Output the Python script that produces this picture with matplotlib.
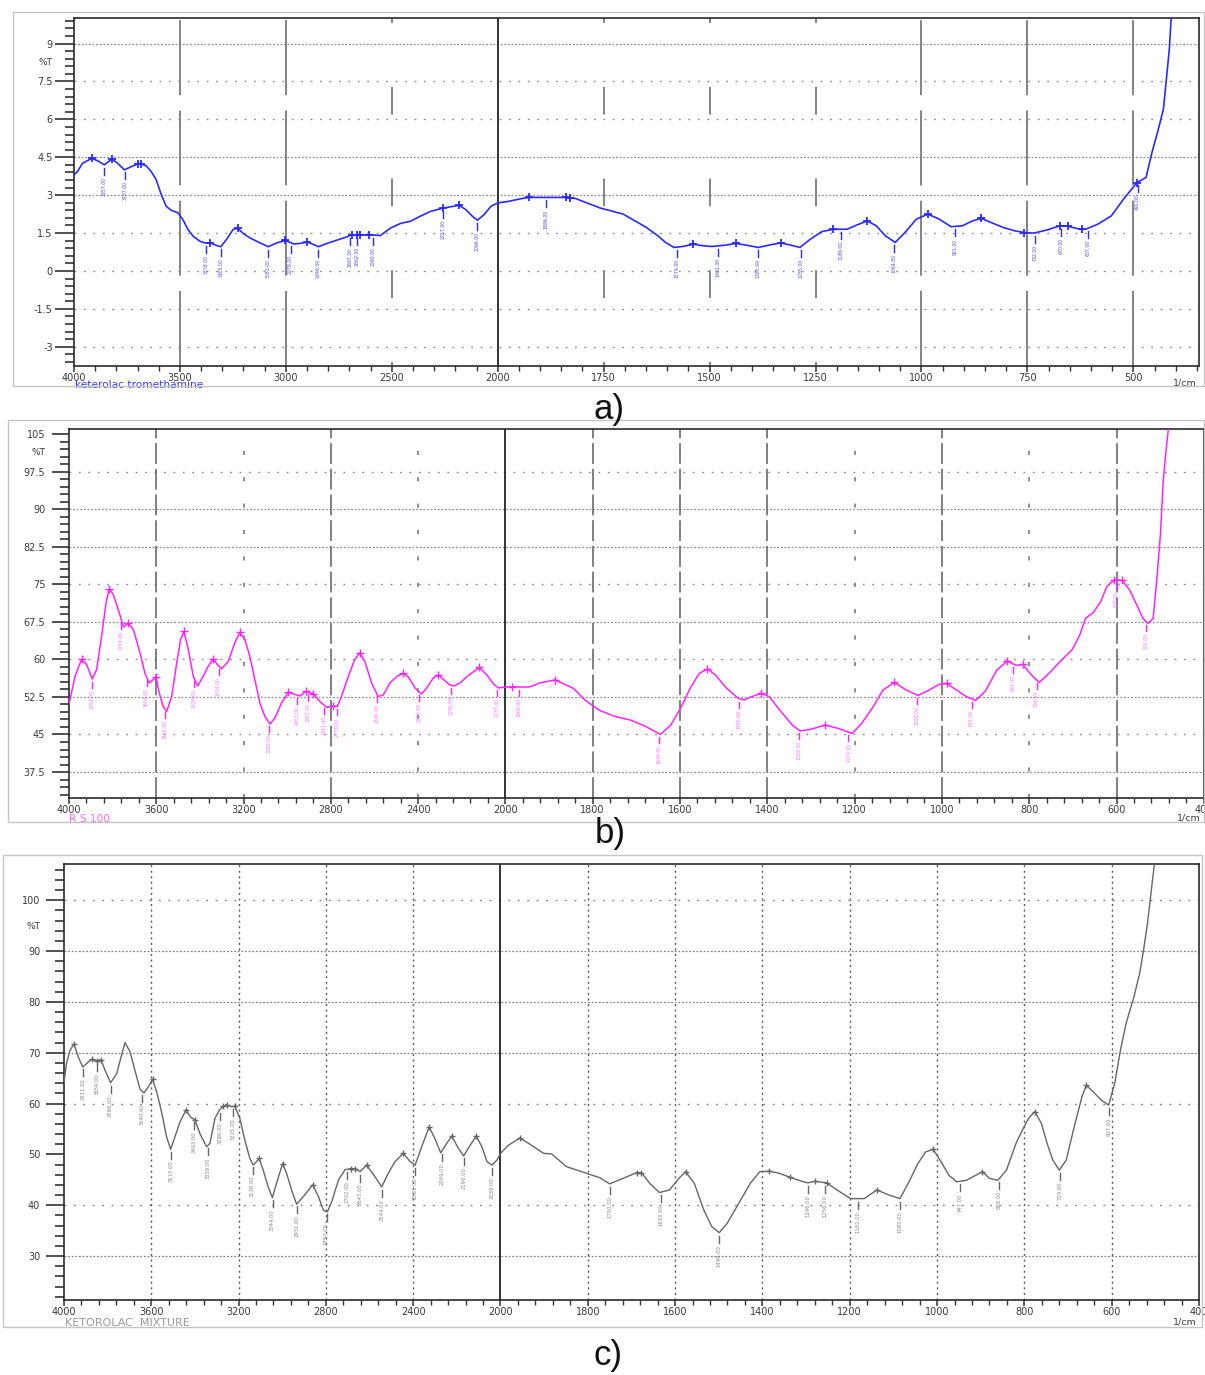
import numpy as np
import matplotlib
matplotlib.use('Agg')
import matplotlib.pyplot as plt
from matplotlib.ticker import FixedLocator, FixedFormatter, NullFormatter
from matplotlib.patches import Rectangle

plt.rcParams['lines.scale_dashes'] = False
plt.rcParams['font.family'] = ['DejaVu Sans']

W, H = 1205, 1375

# ---------------- data: panel a (Ketorolac tromethamine) ----------------
a_wn = [4000, 3983, 3960, 3915, 3881, 3857, 3821, 3794, 3762, 3730, 3691, 3659, 3636, 3612,
        3588, 3565, 3541, 3509, 3486, 3462, 3438, 3407, 3383, 3356, 3328, 3307, 3280, 3249,
        3228, 3201, 3170, 3122, 3083, 3043, 3002, 2964, 2933, 2898, 2870, 2846, 2806, 2759,
        2712, 2688, 2664, 2648, 2609, 2554, 2506, 2459, 2411, 2372, 2317, 2257, 2182, 2151,
        2119, 2096, 2064, 2032, 2001, 1976, 1945, 1926, 1880, 1839, 1817, 1758, 1704, 1649,
        1622, 1604, 1584, 1563, 1538, 1517, 1495, 1463, 1438, 1413, 1385, 1358, 1332, 1308,
        1287, 1262, 1235, 1208, 1176, 1148, 1128, 1107, 1085, 1062, 1039, 1012, 985, 958,
        930, 903, 880, 859, 839, 807, 780, 757, 734, 702, 673, 654, 634, 613, 584, 552,
        520, 491, 470, 456, 443, 429, 422, 415, 410]
a_T = [3.80, 3.94, 4.26, 4.46, 4.33, 4.20, 4.43, 4.26, 4.00, 4.13, 4.26, 4.16, 3.94, 3.61,
       3.02, 2.56, 2.40, 2.30, 2.03, 1.64, 1.38, 1.18, 1.11, 1.11, 1.01, 0.96, 1.25, 1.64,
       1.70, 1.48, 1.31, 1.11, 0.96, 1.11, 1.21, 1.07, 1.09, 1.14, 1.05, 0.96, 1.09, 1.22,
       1.35, 1.44, 1.42, 1.42, 1.44, 1.40, 1.70, 1.88, 1.97, 2.14, 2.36, 2.49, 2.60, 2.43,
       2.16, 2.01, 2.23, 2.56, 2.69, 2.75, 2.86, 2.91, 2.91, 2.91, 2.87, 2.49, 2.25, 1.72,
       1.39, 1.13, 0.93, 0.97, 1.06, 1.00, 0.97, 1.02, 1.09, 1.02, 0.93, 1.03, 1.11, 1.02,
       0.93, 1.26, 1.56, 1.65, 1.65, 1.85, 1.98, 1.79, 1.39, 1.13, 1.52, 2.05, 2.25, 2.05,
       1.75, 1.79, 1.98, 2.08, 1.94, 1.72, 1.59, 1.52, 1.50, 1.63, 1.79, 1.77, 1.68, 1.65,
       1.85, 2.18, 2.91, 3.50, 3.70, 4.69, 5.48, 6.40, 7.59, 8.78, 10.2]
a_labels = [3857, 3757, 3378, 3305, 3083, 2978, 2846, 2697, 2662, 2590, 2257, 2096, 1886,
            1576, 1481, 1385, 1285, 1189, 1064, 921, 732, 670, 607, 490]
a_plus = [3915, 3821, 3696, 3686, 3356, 3228, 3002, 2898, 2688, 2666, 2648, 2609, 2257, 2182,
          1926, 1839, 1830, 1538, 1438, 1332, 1208, 1128, 985, 859, 757, 673, 654, 620, 491]

# ---------------- data: panel b (RS 100) ----------------
b_wn = [4000, 3972, 3942, 3919, 3893, 3873, 3850, 3830, 3815, 3797, 3774, 3750, 3728, 3705,
        3674, 3652, 3632, 3613, 3601, 3586, 3568, 3552, 3529, 3506, 3488, 3473, 3453, 3430,
        3410, 3385, 3362, 3339, 3320, 3301, 3270, 3240, 3217, 3194, 3171, 3148, 3125, 3102,
        3079, 3056, 3026, 2995, 2972, 2942, 2914, 2880, 2850, 2819, 2789, 2770, 2751, 2720,
        2690, 2667, 2644, 2613, 2583, 2560, 2529, 2498, 2468, 2445, 2414, 2384, 2361, 2330,
        2307, 2284, 2254, 2235, 2208, 2170, 2119, 2085, 2055, 2032, 2000, 1985, 1945, 1922,
        1886, 1844, 1818, 1784, 1749, 1714, 1678, 1645, 1621, 1599, 1577, 1556, 1537, 1519,
        1493, 1466, 1453, 1435, 1415, 1396, 1369, 1343, 1325, 1298, 1268, 1237, 1206, 1184,
        1157, 1135, 1109, 1082, 1055, 1029, 1007, 989, 967, 945, 923, 901, 874, 850, 830,
        815, 795, 777, 755, 729, 702, 684, 671, 653, 636, 622, 605, 587, 570, 552, 539, 528,
        516, 508, 499, 493, 486, 480]
b_T = [51.0, 56.6, 60.0, 59.0, 56.1, 58.0, 64.6, 71.3, 74.1, 73.0, 70.0, 66.5, 67.2, 66.0,
       61.3, 57.3, 55.3, 56.0, 56.5, 53.3, 50.6, 49.6, 52.6, 59.3, 64.0, 65.6, 62.0, 56.6,
       54.7, 56.6, 58.6, 60.1, 59.0, 58.1, 59.6, 63.3, 65.4, 64.0, 60.6, 56.0, 51.3, 48.6,
       47.1, 48.3, 51.3, 53.4, 53.1, 52.7, 53.6, 53.1, 51.6, 50.4, 50.7, 50.6, 52.6, 56.6,
       60.0, 61.3, 59.6, 55.3, 52.6, 52.9, 55.3, 56.6, 57.2, 56.5, 54.3, 53.1, 54.3, 56.3,
       56.9, 56.0, 54.9, 54.7, 55.3, 56.8, 58.4, 56.9, 55.1, 54.3, 54.5, 54.5, 54.5, 55.3,
       55.9, 54.2, 51.9, 49.8, 48.6, 47.9, 46.6, 45.0, 46.9, 50.2, 54.2, 57.2, 58.1, 56.9,
       54.2, 52.2, 51.9, 52.6, 53.2, 52.6, 49.6, 46.9, 45.7, 46.1, 46.9, 46.2, 45.2, 47.2,
       50.6, 53.9, 55.4, 53.9, 52.8, 53.9, 55.0, 55.2, 53.9, 52.6, 51.8, 53.6, 57.9, 59.7, 58.8,
       59.0, 56.9, 55.4, 57.2, 59.6, 61.9, 64.9, 68.2, 69.4, 71.6, 74.6, 75.9, 75.8, 73.9, 70.6,
       68.2, 67.2, 68.2, 75.6, 85.5, 95.5, 102.2, 107.0]
b_labels = [3893, 3759, 3644, 3560, 3426, 3314, 3083, 2953, 2903, 2831, 2773, 2590, 2396,
            2250, 2037, 1969, 1649, 1465, 1328, 1214, 1058, 932, 837, 783, 600, 532]
b_plus = [3942, 3815, 3728, 3601, 3473, 3339, 3217, 2995, 2914, 2880, 2789, 2667, 2468, 2307,
          2119, 1985, 1886, 1537, 1415, 1268, 1109, 989, 850, 815, 605, 587]

# ---------------- data: panel c (Ketorolac mixture) ----------------
c_wn = [4000, 3988, 3972, 3954, 3934, 3914, 3888, 3873, 3850, 3830, 3812, 3786, 3758, 3738,
        3720, 3697, 3675, 3651, 3633, 3613, 3594, 3575, 3560, 3545, 3530, 3511, 3491, 3468,
        3441, 3418, 3400, 3377, 3346, 3331, 3308, 3288, 3270, 3252, 3232, 3217, 3194, 3171,
        3148, 3133, 3117, 3105, 3087, 3064, 3045, 3026, 2998, 2980, 2957, 2934, 2903, 2860,
        2834, 2811, 2793, 2773, 2742, 2712, 2686, 2666, 2643, 2613, 2575, 2544, 2514, 2483,
        2445, 2414, 2391, 2361, 2327, 2300, 2274, 2246, 2223, 2197, 2169, 2139, 2111, 2085,
        2062, 2039, 2016, 2000, 1982, 1956, 1936, 1901, 1883, 1849, 1814, 1772, 1750, 1719,
        1688, 1677, 1658, 1636, 1613, 1591, 1576, 1556, 1534, 1516, 1499, 1481, 1454, 1428,
        1406, 1384, 1362, 1337, 1313, 1296, 1280, 1253, 1229, 1198, 1167, 1138, 1110, 1085,
        1066, 1044, 1026, 1009, 991, 973, 955, 933, 911, 896, 880, 861, 841, 819, 801, 788,
        776, 761, 748, 735, 720, 704, 686, 668, 658, 642, 624, 607, 593, 580, 567, 549, 536,
        527, 518, 510, 501]
c_T = [64.0, 67.9, 70.5, 71.7, 69.2, 67.2, 68.2, 68.7, 68.4, 68.6, 66.6, 64.1, 65.9, 69.2,
       72.0, 70.2, 66.6, 62.8, 62.1, 63.3, 64.8, 62.3, 59.7, 56.8, 53.5, 51.0, 53.5, 56.4,
       58.7, 57.3, 56.8, 54.1, 51.5, 52.2, 57.1, 58.7, 59.5, 59.7, 59.4, 59.5, 57.1, 52.8,
       49.2, 47.9, 48.6, 49.2, 46.9, 43.6, 41.5, 44.3, 48.2, 46.3, 43.0, 40.2, 41.7, 44.0,
       41.7, 39.0, 38.7, 40.7, 45.0, 47.0, 47.2, 47.2, 46.6, 47.9, 45.6, 43.6, 46.3, 48.6,
       50.2, 48.6, 47.9, 51.5, 55.4, 53.1, 50.3, 52.2, 53.6, 51.5, 49.7, 51.8, 53.6, 51.5,
       48.6, 47.9, 48.9, 50.2, 51.8, 53.2, 52.2, 50.2, 50.1, 47.6, 46.6, 45.4, 44.2, 45.3,
       46.4, 46.4, 44.3, 42.5, 43.0, 45.3, 46.6, 44.3, 39.0, 35.8, 34.6, 36.4, 40.4, 44.3,
       46.6, 46.7, 46.3, 45.5, 44.8, 44.4, 44.7, 44.4, 43.0, 41.3, 41.3, 43.0, 42.0, 41.3,
       44.3, 48.2, 50.5, 51.0, 48.6, 45.9, 44.6, 44.9, 45.9, 46.6, 45.3, 44.9, 46.9, 52.2,
       55.4, 57.4, 58.4, 56.1, 52.2, 48.9, 46.9, 48.9, 55.4, 61.4, 63.6, 62.3, 60.7, 59.7,
       64.0, 70.5, 75.8, 81.0, 85.6, 90.2, 95.5, 101.4, 108.0]
c_labels = [3911, 3850, 3786, 3640, 3510, 3403, 3339, 3286, 3225, 3136, 3044, 2931, 2797,
            2702, 2643, 2544, 2391, 2269, 2166, 2039, 1750, 1633, 1499, 1296, 1256, 1182,
            1085, 947, 858, 719, 607]
c_plus = [3954, 3873, 3850, 3830, 3594, 3441, 3400, 3270, 3252, 3217, 3105, 2998, 2860, 2686,
          2666, 2613, 2445, 2327, 2223, 2111, 1956, 1688, 1677, 1576, 1384, 1337, 1280, 1253,
          1138, 1009, 896, 776, 658]

# ticks / labels
a_xmajor = [4000, 3500, 3000, 2500, 2000, 1750, 1500, 1250, 1000, 750, 500]
bc_xmajor = [4000, 3600, 3200, 2800, 2400, 2000, 1800, 1600, 1400, 1200, 1000, 800, 600, 400]
a_ymajor = [-3, -1.5, 0, 1.5, 3, 4.5, 6, 7.5, 9]
a_ylab = ['-3', '-1.5', '0', '1.5', '3', '4.5', '6', '7.5', '9']
b_ymajor = [37.5, 45, 52.5, 60, 67.5, 75, 82.5, 90, 97.5, 105]
b_ylab = ['37.5', '45', '52.5', '60', '67.5', '75', '82.5', '90', '97.5', '105']
c_ymajor = [30, 40, 50, 60, 70, 80, 90, 100]
c_ylab = ['30', '40', '50', '60', '70', '80', '90', '100']


def fwd(x):
    x = np.asarray(x, float)
    return np.where(x >= 2000, x / 2 + 1000, x)


def inv(u):
    u = np.asarray(u, float)
    return np.where(u >= 2000, 2 * (u - 1000), u)


fig = plt.figure(figsize=(W / 100, H / 100), dpi=100)


def px_axes(l, r, t, b):
    return fig.add_axes([l / W, 1 - b / H, (r - l) / W, (b - t) / H])


def frame(x0, y0, x1, y1):
    fig.add_artist(Rectangle((x0 / W, 1 - y1 / H), (x1 - x0) / W, (y1 - y0) / H,
                             transform=fig.transFigure, fill=False, ec='#c4c4c4', lw=1.0))


DENSE = (0, (1.3, 1.3))
SPARSE = (0, (1.3, 5.5))


def setup(ax, xlim, ylim, xmajor, xminor, ymajor, ylab, yminor, tpos, majlen, ypad, cmoff):
    ax.set_xscale('function', functions=(fwd, inv))
    ax.set_xlim(*xlim)
    ax.set_ylim(*ylim)
    ax.xaxis.set_major_locator(FixedLocator(xmajor))
    ax.xaxis.set_major_formatter(FixedFormatter([str(v) for v in xmajor]))
    ax.xaxis.set_minor_locator(FixedLocator(xminor))
    ax.xaxis.set_minor_formatter(NullFormatter())
    ax.yaxis.set_major_locator(FixedLocator(ymajor))
    ax.yaxis.set_major_formatter(FixedFormatter(ylab))
    ax.yaxis.set_minor_locator(FixedLocator(yminor))
    ax.tick_params(axis='y', which='major', direction='out', length=majlen, width=1.2,
                   color='#333333', pad=ypad, labelsize=7, labelcolor='#3a3a3a')
    ax.tick_params(axis='y', which='minor', direction='out', length=6.8, width=1.2,
                   color='#333333')
    ax.tick_params(axis='x', which='major', direction='out', length=4.5, width=1.1,
                   color='#333333', pad=0.5, labelsize=7.0, labelcolor='#3a3a3a')
    ax.tick_params(axis='x', which='minor', direction='out', length=3.8, width=1.0,
                   color='#333333')
    for s in ax.spines.values():
        s.set_color('#2a2a2a')
        s.set_linewidth(1.2)
    ax.annotate('%T', xy=(0, tpos), xycoords=ax.get_yaxis_transform(),
                xytext=(-(majlen + ypad), 0), textcoords='offset points', ha='right',
                va='center', fontsize=6.5, color='#3a3a3a')
    ax.axvline(2000, color='#111111', lw=1.2, zorder=2)
    ax.annotate('1/cm', xy=(1, 0), xycoords='axes fraction', xytext=(-2, cmoff),
                textcoords='offset points', ha='right', va='center', fontsize=6.8,
                color='#3a3a3a', annotation_clip=False)


def hgrid(ax, dense, sparse, color='#8c8c8c'):
    for v in dense:
        ax.axhline(v, color=color, lw=0.9, ls=DENSE, zorder=1)
    for v in sparse:
        ax.axhline(v, color=color, lw=1.0, ls=SPARSE, zorder=1)


def marks(ax, wn, T, labels, plus, ppu, color, lcolor, fs, tlen, ms, mew):
    wr = np.asarray(wn, float)[::-1]
    Tr = np.asarray(T, float)[::-1]
    for w in plus:
        yv = np.interp(w, wr, Tr)
        ax.plot([w], [yv], marker='+', ms=ms, mew=mew, color=color, zorder=4)
    for w in labels:
        yv = np.interp(w, wr, Tr)
        ax.plot([w, w], [yv - 3 / ppu, yv - (3 + tlen) / ppu], color=color, lw=1.0, zorder=4)
        ax.text(w, yv - (5 + tlen) / ppu, '%.2f' % w, rotation=90, ha='center', va='top',
                fontsize=fs, color=lcolor, zorder=4)


# ================= panel a =================
frame(13, 12, 1204, 386)
axa = px_axes(74, 1199, 18.3, 365.7)
setup(axa, (4000, 345), (-3.75, 10), a_xmajor,
      list(range(4000, 2000, -100)) + list(range(2000, 340, -50)),
      a_ymajor, a_ylab, list(np.arange(-3.6, 10.0, 0.3)), 8.26, 13.5, 1.8, -12.5)
hgrid(axa, [9, 4.5, 3], [7.5, 6, 1.5, 0, -1.5, -3])
for v in [3500, 3000, 1000, 750, 500]:
    axa.axvline(v, color='#7a7a7a', lw=1.3, ls=(0, (54, 11)), zorder=1)
for v in [2500, 1750, 1500, 1250]:
    axa.axvline(v, color='#7a7a7a', lw=1.3, ls=(17, (20, 46)), zorder=1)
axa.plot(a_wn, a_T, color='#2a2aff', lw=1.2, zorder=3)
marks(axa, a_wn, a_T, a_labels, a_plus, 25.28, '#2a2aff', '#5050e8', 3.3, 7, 6, 1.3)
axa.annotate('keterolac tromethamine', xy=(0, 0), xycoords='axes fraction', xytext=(1, -14),
             textcoords='offset points', ha='left', va='center', fontsize=7.6,
             color='#3a3aff', annotation_clip=False)

# ================= panel b =================
frame(8, 420, 1204, 822)
axb = px_axes(68.9, 1203.8, 429, 798.3)
setup(axb, (4000, 400), (32.25, 106.05), bc_xmajor,
      list(range(4000, 2000, -80)) + list(range(2000, 399, -40)),
      b_ymajor, b_ylab, list(np.arange(33, 106, 1.5)), 101.3, 12, 5, -14.5)
hgrid(axb, [90, 82.5, 67.5, 52.5, 37.5], [97.5, 75, 60, 45])
for v in [3600, 2800, 1800, 1600, 1400, 1000, 600]:
    axb.axvline(v, color='#6a6a6a', lw=1.2, ls=(0, (15, 3.5)), zorder=1)
for v in [3200, 2400, 1200, 800]:
    axb.axvline(v, color='#7a7a7a', lw=1.2, ls=(0, (3, 16)), zorder=1)
axb.plot(b_wn, b_T, color='#ff22ff', lw=1.1, zorder=3)
marks(axb, b_wn, b_T, b_labels, b_plus, 5.0, '#ff22ff', '#ff70ff', 3.3, 6, 5.5, 1.0)
axb.annotate('R S 100', xy=(0, 0), xycoords='axes fraction', xytext=(0, -15),
             textcoords='offset points', ha='left', va='center', fontsize=7.6,
             color='#ff66ff', annotation_clip=False)

# ================= panel c =================
frame(3, 855, 1202, 1327)
axc = px_axes(63.9, 1199, 864, 1300)
setup(axc, (4000, 400), (21.35, 107.15), bc_xmajor,
      list(range(4000, 2000, -80)) + list(range(2000, 399, -40)),
      c_ymajor, c_ylab, list(np.arange(22, 107.5, 2)), 94.9, 13, 4, -16)
hgrid(axc, [90, 80, 70, 30], [100, 60, 40], color='#808080')
for v in [3600, 3200, 2800, 2400, 1800, 1600, 1400, 1200, 1000, 800, 600]:
    axc.axvline(v, color='#5a5a5a', lw=1.0, ls=(0, (1.5, 2.5)), zorder=1)
axc.plot(c_wn, c_T, color='#666666', lw=1.0, zorder=3)
marks(axc, c_wn, c_T, c_labels, c_plus, 5.08, '#666666', '#8a8a8a', 3.8, 7, 5, 1.0)
axc.annotate('KETOROLAC  MIXTURE', xy=(0, 0), xycoords='axes fraction', xytext=(1, -16.5),
             textcoords='offset points', ha='left', va='center', fontsize=8.0,
             color='#9a9a9a', annotation_clip=False)

# panel letters
for lab, (x, y) in zip(['a)', 'b)', 'c)'], [(609, 409), (610, 833), (608, 1356)]):
    fig.text(x / W, 1 - y / H, lab, ha='center', va='center', fontsize=25,
             family=['Liberation Sans', 'DejaVu Sans'], color='#111111')

fig.savefig('out.png', dpi=100)
